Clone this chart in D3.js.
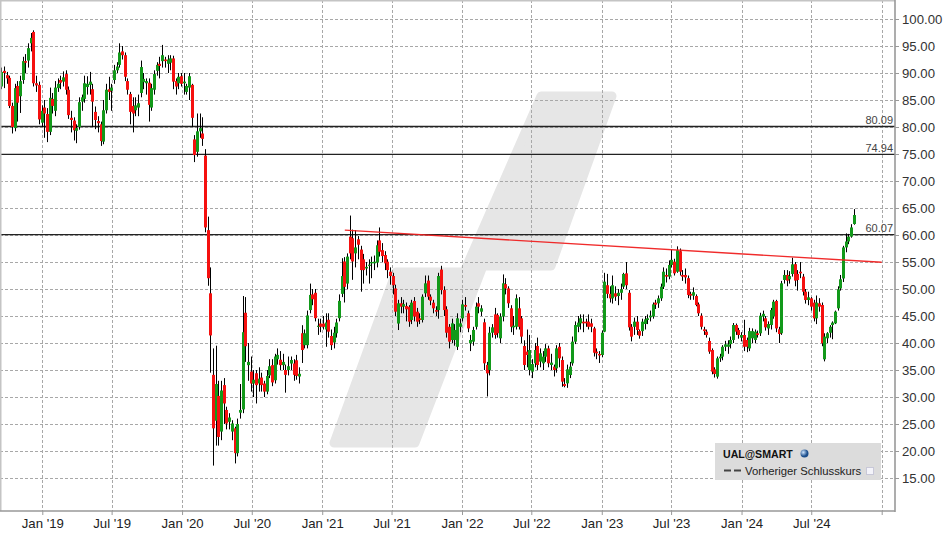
<!DOCTYPE html>
<html>
<head>
<meta charset="utf-8">
<script src="https://cdn.jsdelivr.net/npm/d3@7"></script>
<style>
  html, body { margin: 0; padding: 0; background: #fff; }
  svg { display: block; font-family: "Liberation Sans", Arial, sans-serif; }
</style>
</head>
<body>
<svg id="chart" width="948" height="539"></svg>
<script>
// ---------- DATA (weekly candles, UAL) ----------
const firstWeek = "2018-09-16";
const openP = [87.5,90.4,89.6,89.1,83.9,79.8,87.6,85.7,88.7,92.2,92.3,95.5,97.6,88.1,87.8,80.8,83.6,82.4,79.1,85.2,83.0,87.2,88.7,88.4,89.8,86.9,81.7,81.2,79.3,80.0,84.7,85.2,87.4,87.8,87.0,82.8,81.1,80.5,77.3,83.1,87.0,86.7,88.7,90.5,91.5,94.0,93.3,88.5,86.1,83.9,83.1,83.6,86.3,88.3,88.1,88.2,83.6,86.9,90.4,91.7,92.2,92.5,91.7,91.9,92.7,88.5,88.1,89.4,88.1,86.5,87.3,87.8,77.7,75.4,79.2,78.8,74.7,60.9,49.2,34.1,25.6,30.2,23.6,32.2,27.6,25.4,23.6,24.2,19.6,27.1,27.7,45.6,35.9,34.7,32.5,34.4,32.5,33.6,32.5,31.0,34.0,35.9,33.1,37.0,36.9,35.9,35.0,35.0,36.2,36.2,36.8,33.8,41.8,39.6,39.6,46.1,49.0,49.3,43.0,43.6,43.6,42.5,44.3,41.3,40.1,41.8,44.6,49.1,55.1,51.0,59.7,59.4,56.6,59.2,57.3,55.5,53.8,54.3,54.75,54.75,54.9,59.0,57.2,56.3,55.06,53.2,52.4,50.1,43.6,47.35,46.73,46.85,46.7,44.26,47.78,45.8,44.57,44.26,49.2,51.55,48.58,47.47,46.1,46.1,53.6,49.8,46.24,43.0,40.56,40.56,39.3,43.0,44.57,47.04,45.5,39.94,40.25,43.0,47.35,45.8,43.83,35.93,35.0,41.9,45.3,45.19,40.87,44.9,50.9,50.1,46.42,42.9,43.0,46.42,44.57,39.45,38.4,35.0,34.7,36.24,39.45,36.55,36.24,37.47,39.0,35.93,35.62,35.3,39.3,36.85,32.4,32.53,34.07,36.24,40.25,43.0,43.64,43.95,43.95,43.95,43.64,42.7,38.4,37.97,37.78,42.1,50.7,49.1,48.27,49.2,48.7,49.3,50.43,52.9,49.3,43.0,43.0,43.95,42.2,42.2,43.52,44.26,44.75,44.9,47.47,47.35,48.27,50.43,52.6,52.29,54.45,55.06,53.2,57.0,52.6,52.6,52.0,49.1,48.77,48.7,47.16,45.06,42.53,42.1,40.37,38.7,35.12,33.77,37.16,37.47,39.3,39.3,39.8,40.56,43.33,42.41,41.0,41.48,40.56,39.0,40.87,40.56,41.8,41.8,44.9,44.57,42.7,43.33,44.9,47.78,42.53,41.8,51.67,52.6,51.8,52.78,54.6,52.78,53.2,52.29,49.5,47.96,48.27,47.47,44.57,47.35,47.04,36.98,40.87,41.9,43.33,43.64,46.42,50.1,51.95,57.7,58.8,59.7,62.04];
const highP = [91.0,91.2,90.2,89.5,84.5,88.0,88.5,89.5,93.0,93.5,95.5,97.4,97.9,89.5,88.4,84.0,85.0,83.5,87.3,86.3,88.5,89.0,89.5,90.3,90.5,87.5,83.0,81.8,80.5,85.5,86.0,89.5,89.4,90.2,88.0,83.8,82.0,81.0,85.0,88.0,89.3,88.0,91.5,92.0,95.5,95.0,93.8,89.0,86.5,85.5,85.5,86.0,92.3,90.0,89.0,89.0,88.0,90.5,92.0,93.0,95.2,93.0,93.3,93.3,93.2,89.0,90.0,90.0,90.0,88.0,90.0,88.0,78.5,82.5,82.5,81.8,75.9,63.4,54.0,39.0,39.5,33.0,33.0,33.5,28.2,27.0,25.7,24.5,26.0,32.4,48.7,48.5,40.0,37.5,35.0,35.0,35.5,34.5,33.0,35.0,37.0,37.0,38.0,39.0,38.5,38.0,36.0,37.5,37.5,37.0,37.8,35.5,43.3,42.5,46.0,51.0,50.0,50.0,44.5,44.5,45.0,45.5,45.5,42.5,43.0,44.5,49.0,55.7,55.9,56.6,63.6,61.0,60.9,59.8,58.0,56.5,55.0,55.5,56.0,56.2,59.0,61.4,58.5,57.0,55.5,54.0,53.0,50.8,48.0,48.5,48.0,47.5,47.0,48.0,48.5,46.5,45.5,49.0,52.5,52.5,49.0,48.0,46.8,53.0,54.3,50.5,46.8,43.5,44.5,43.5,45.5,44.5,48.0,48.5,46.0,41.5,43.0,47.5,48.5,47.0,44.5,36.5,43.0,43.5,46.5,45.5,45.5,52.7,52.0,50.5,47.0,45.0,49.0,48.5,45.0,40.5,42.5,41.5,37.0,40.0,41.0,39.0,38.5,39.8,39.5,38.0,36.0,39.6,40.0,37.5,33.5,36.0,36.5,41.2,44.0,45.0,45.3,45.3,44.5,45.3,44.5,43.0,39.0,38.5,42.3,53.0,52.8,50.5,52.5,50.5,50.0,51.0,53.0,55.0,49.8,43.5,44.7,45.0,42.5,44.5,45.0,45.3,46.0,47.5,48.0,48.8,51.0,54.0,53.8,55.3,57.3,55.6,57.9,57.5,53.5,53.8,52.5,49.5,50.3,49.0,47.5,45.5,43.0,42.5,41.0,39.0,35.5,37.5,38.0,39.6,40.4,40.5,41.2,43.7,43.6,42.8,42.0,44.3,41.0,42.8,42.7,42.5,42.3,45.6,46.0,45.0,44.0,46.5,48.0,48.0,43.0,51.5,53.5,53.5,53.3,55.8,55.0,53.5,55.0,52.8,50.0,49.5,48.5,48.0,48.8,48.3,47.5,41.8,42.0,43.3,44.0,46.0,50.5,52.6,58.0,60.3,60.2,62.0,64.8];
const lowP = [87.0,87.2,88.0,83.5,78.8,79.2,81.0,82.6,88.0,90.0,91.0,94.0,87.5,86.5,80.5,80.0,78.0,77.2,78.5,82.5,82.0,86.5,87.0,87.5,86.0,81.5,79.0,77.5,77.0,79.5,83.0,84.5,86.0,86.0,80.0,79.6,79.0,76.5,76.8,82.5,85.0,83.0,88.0,90.0,91.0,92.5,88.5,86.0,80.5,79.0,82.0,82.0,85.5,87.0,86.0,81.0,83.0,86.0,89.5,89.0,91.0,91.0,90.0,90.5,87.0,86.0,87.0,87.5,86.0,86.0,85.0,80.0,73.5,74.5,78.0,76.5,60.5,50.6,34.5,17.3,21.0,21.0,22.0,25.0,24.0,24.0,22.0,17.7,19.0,26.0,27.0,36.5,33.0,31.0,30.0,28.8,31.0,31.0,30.0,30.5,33.5,32.0,32.5,36.0,35.0,35.0,30.8,34.0,35.0,33.0,33.2,32.5,36.3,39.0,39.0,45.5,47.0,44.0,41.5,42.0,42.5,39.3,41.0,38.7,39.0,41.0,44.0,48.5,47.5,50.0,55.5,51.7,54.0,55.5,49.5,51.0,52.5,51.0,52.0,53.5,54.0,56.0,55.0,53.5,52.0,50.8,49.0,45.0,42.4,45.5,45.5,44.0,43.0,43.5,44.0,43.0,43.5,43.8,48.5,48.0,47.0,45.5,45.0,44.5,49.0,45.0,41.0,39.0,40.0,39.5,38.7,42.0,44.0,46.0,42.0,38.5,39.5,42.5,45.5,45.0,35.0,30.1,34.0,41.0,40.8,41.0,40.0,44.0,49.0,46.5,42.0,41.5,42.5,42.5,40.0,35.0,35.5,34.0,33.5,35.5,35.0,35.5,35.0,36.5,35.5,35.0,33.8,34.5,35.5,31.9,31.8,31.7,33.5,35.8,39.8,42.0,42.5,42.0,43.0,42.5,42.0,37.5,37.0,36.3,37.4,42.0,48.3,47.5,47.3,47.8,47.0,48.0,50.0,50.0,42.3,40.3,41.5,41.5,40.8,41.3,42.5,43.5,44.0,44.5,46.3,46.5,47.8,50.0,51.2,51.8,54.0,52.5,53.0,52.5,51.5,51.0,48.3,48.0,48.0,46.8,45.0,42.5,41.5,41.0,38.0,34.2,33.6,33.4,36.5,36.8,38.5,38.0,39.0,40.0,41.5,40.8,40.3,38.5,38.3,38.5,40.0,40.0,41.0,41.3,44.0,42.3,41.5,42.5,44.5,42.0,40.0,41.5,51.0,50.5,51.0,52.3,50.5,49.7,52.0,48.8,47.3,47.0,46.0,44.0,43.5,45.8,39.4,36.6,40.0,41.0,40.7,43.5,46.0,49.7,51.3,56.8,58.3,59.5,61.9];
const closeP = [90.2,90.0,89.0,83.9,80.0,87.2,84.5,88.5,92.2,91.9,94.6,96.5,88.1,87.7,81.4,83.0,82.5,79.1,85.4,83.9,87.3,88.0,88.2,89.2,86.9,82.2,81.3,79.4,79.8,84.6,85.5,88.1,88.0,88.4,84.7,81.3,80.7,77.4,83.1,86.9,86.5,87.3,90.5,91.2,93.8,93.3,89.3,86.9,82.8,82.5,84.0,84.4,91.1,88.9,88.5,84.1,87.2,89.8,91.5,91.3,93.3,92.2,92.5,92.7,88.4,87.5,89.3,88.0,88.4,87.6,89.4,81.7,74.8,79.2,79.8,77.8,61.4,52.0,41.4,24.2,32.4,22.6,31.2,28.8,25.1,26.2,25.1,19.6,25.0,27.6,42.0,39.4,36.5,32.5,33.2,32.2,33.4,32.2,31.0,33.9,35.7,32.7,37.5,37.8,35.9,36.5,34.1,35.7,36.85,34.1,33.9,34.3,38.7,41.8,45.1,48.9,48.1,44.6,43.2,43.0,43.0,43.8,42.1,39.6,41.9,43.8,47.8,52.4,50.4,56.0,56.6,55.1,57.7,58.2,53.5,53.5,54.1,54.5,55.0,55.06,58.1,56.9,56.1,54.75,53.5,52.4,50.7,45.8,47.35,46.73,47.2,46.24,43.95,47.47,44.9,43.95,44.26,48.58,51.05,48.58,47.84,46.42,45.8,52.4,49.8,46.1,41.9,40.25,43.64,42.41,44.57,43.64,47.16,46.73,42.7,40.56,42.41,46.73,46.73,46.42,36.24,34.38,41.9,42.9,41.48,41.8,44.9,51.05,50.1,47.35,43.0,43.2,48.27,43.0,41.18,35.93,37.78,38.7,36.1,38.7,35.93,38.09,37.47,39.0,36.24,36.36,35.0,39.0,37.16,32.84,32.04,35.12,35.62,40.25,43.33,43.77,44.57,43.64,43.64,43.0,43.0,38.2,38.09,37.7,41.9,51.36,49.1,48.27,50.7,48.58,49.3,49.94,52.78,50.7,42.9,41.18,43.95,42.41,41.36,43.95,44.38,44.57,45.06,47.16,47.1,48.27,50.43,53.2,52.29,54.45,55.4,52.9,57.2,53.2,52.29,52.16,48.9,48.77,49.4,47.04,45.5,43.0,42.2,41.48,38.4,34.7,34.26,37.16,37.47,39.3,39.75,39.75,40.56,43.33,42.1,41.48,41.48,39.3,39.3,42.2,42.2,42.1,41.48,45.06,45.4,42.9,43.52,46.1,47.65,42.7,41.67,51.05,52.6,51.55,52.4,54.57,51.55,51.67,52.9,49.5,47.96,48.46,46.73,44.57,47.47,46.73,39.94,41.18,41.8,43.0,43.77,45.8,49.94,51.8,57.7,58.8,59.7,61.4,63.7];

const yTickValues = [15,20,25,30,35,40,45,50,55,60,65,70,75,80,85,90,95,100];
const xTickDates  = ["2019-01-01","2019-07-01","2020-01-01","2020-07-01","2021-01-01","2021-07-01","2022-01-01","2022-07-01","2023-01-01","2023-07-01","2024-01-01","2024-07-01","2025-01-01"];
const xTickLabels = ["Jan '19","Jul '19","Jan '20","Jul '20","Jan '21","Jul '21","Jan '22","Jul '22","Jan '23","Jul '23","Jan '24","Jul '24",""];
const levelValues = [80.09, 74.94, 60.07];
const trendDates  = ["2021-03-01","2025-01-01"];
const trendValues = [60.9, 54.95];
const legendTitle = "UAL@SMART";
const legendItem  = "Vorheriger Schlusskurs";

// ---------- LAYOUT ----------
const W = 948, H = 539;
const plotR = 895, plotB = 511;
const parse = d3.utcParse("%Y-%m-%d");
const start = parse(firstWeek);
const candles = openP.map((o, i) => ({
  date: d3.utcDay.offset(start, 7 * i),
  o, h: highP[i], l: lowP[i], c: closeP[i]
}));

const x = d3.scaleUtc()
  .domain([parse("2019-01-01"), parse("2025-01-01")])
  .range([42.3, 881.7]);
const y = d3.scaleLinear().domain([15, 100]).range([478, 19]);

const svg = d3.select("#chart");
svg.append("rect").attr("width", W).attr("height", H).attr("fill", "#fff");

svg.append("clipPath").attr("id", "clip")
  .append("rect").attr("x", 0).attr("y", 0).attr("width", plotR).attr("height", plotB);

// watermark
svg.append("path")
  .attr("d", "M541,96 L612,96 L551,266 L483,266 L415,443 L334,443 L396,272 L464,272 Z")
  .attr("fill", "#e6e6e6")
  .attr("stroke", "#e6e6e6")
  .attr("stroke-width", 9)
  .attr("stroke-linejoin", "round");

// gridlines
const grid = svg.append("g").attr("clip-path", "url(#clip)");
grid.selectAll("line.hg").data(yTickValues).join("line")
  .attr("x1", 0).attr("x2", plotR)
  .attr("y1", d => Math.round(y(d)) + 0.5).attr("y2", d => Math.round(y(d)) + 0.5)
  .attr("stroke", "#a8a8a8").attr("stroke-width", 1).attr("stroke-dasharray", "3,2");
grid.selectAll("line.vg").data(xTickDates).join("line")
  .attr("x1", d => Math.round(x(parse(d))) + 0.5).attr("x2", d => Math.round(x(parse(d))) + 0.5)
  .attr("y1", 0).attr("y2", plotB)
  .attr("stroke", "#a8a8a8").attr("stroke-width", 1).attr("stroke-dasharray", "3,2");

// level lines
const lv = svg.append("g");
lv.selectAll("line").data(levelValues).join("line")
  .attr("x1", 0).attr("x2", plotR)
  .attr("y1", d => y(d)).attr("y2", d => y(d))
  .attr("stroke", "#222").attr("stroke-width", 1.3);
lv.selectAll("text").data(levelValues).join("text")
  .attr("x", plotR - 2).attr("y", d => y(d) - 2.5)
  .attr("text-anchor", "end").attr("font-size", 11).attr("fill", "#444")
  .text(d => d.toFixed(2));

// candles
const cg = svg.append("g").attr("clip-path", "url(#clip)");
cg.selectAll("line.wick").data(candles).join("line")
  .attr("x1", d => Math.round(x(d.date)) + 0.5).attr("x2", d => Math.round(x(d.date)) + 0.5)
  .attr("y1", d => y(d.h)).attr("y2", d => y(d.l))
  .attr("stroke", "#000").attr("stroke-width", 1);
cg.selectAll("rect.body").data(candles).join("rect")
  .attr("x", d => Math.round(x(d.date)) - 1)
  .attr("width", 3)
  .attr("y", d => y(Math.max(d.o, d.c)))
  .attr("height", d => Math.max(1.2, Math.abs(y(d.o) - y(d.c))))
  .attr("fill", d => d.c >= d.o ? "#12991a" : "#f5100f");

// trend line
svg.append("line")
  .attr("x1", x(parse(trendDates[0]))).attr("y1", y(trendValues[0]))
  .attr("x2", x(parse(trendDates[1]))).attr("y2", y(trendValues[1]))
  .attr("stroke", "#f02020").attr("stroke-width", 1.4).attr("opacity", 0.95);

// frame
svg.append("line").attr("x1", 0.5).attr("x2", 0.5).attr("y1", 0).attr("y2", plotB).attr("stroke", "#c4c4c4").attr("stroke-width", 2);
svg.append("line").attr("x1", 0).attr("x2", plotR).attr("y1", 0.5).attr("y2", 0.5).attr("stroke", "#c4c4c4").attr("stroke-width", 2);
svg.append("line").attr("x1", plotR).attr("x2", plotR).attr("y1", 0).attr("y2", plotB + 1).attr("stroke", "#999").attr("stroke-width", 1.6);
svg.append("line").attr("x1", 0).attr("x2", plotR).attr("y1", plotB).attr("y2", plotB).attr("stroke", "#999").attr("stroke-width", 1.6);

// right axis
const yAxis = d3.axisRight(y).tickValues(yTickValues).tickFormat(d3.format(".2f")).tickSize(4).tickPadding(3);
const ya = svg.append("g").attr("transform", `translate(${plotR},0)`).call(yAxis);
ya.select(".domain").remove();
ya.selectAll("line").attr("stroke", "#999");
ya.selectAll("text").attr("font-size", 13.2).attr("fill", "#333")
  .attr("font-family", "'Liberation Sans', Arial, sans-serif").attr("dy", "0.36em");

// bottom axis
const labelOf = new Map(xTickDates.map((d, i) => [d, xTickLabels[i]]));
const xAxis = d3.axisBottom(x).tickValues(xTickDates.map(parse))
  .tickFormat(d => labelOf.get(d3.utcFormat("%Y-%m-%d")(d))).tickSize(4).tickPadding(4);
const xa = svg.append("g").attr("transform", `translate(0,${plotB})`).call(xAxis);
xa.select(".domain").remove();
xa.selectAll("line").attr("stroke", "#999");
xa.selectAll("text").attr("font-size", 13.2).attr("fill", "#222")
  .attr("font-family", "'Liberation Sans', Arial, sans-serif");

// legend
const lg = svg.append("g");
lg.append("rect").attr("x", 715).attr("y", 443).attr("width", 166).attr("height", 37).attr("fill", "#dcdcdc");
lg.append("text").attr("x", 723).attr("y", 457.5).attr("font-size", 10.6).attr("font-weight", "bold").attr("fill", "#111").text(legendTitle);
const gr = lg.append("defs").append("radialGradient").attr("id", "globe").attr("cx", "35%").attr("cy", "35%");
gr.append("stop").attr("offset", "0%").attr("stop-color", "#cfe6ff");
gr.append("stop").attr("offset", "100%").attr("stop-color", "#1d4f8c");
lg.append("circle").attr("cx", 804.5).attr("cy", 453.5).attr("r", 4).attr("fill", "url(#globe)");
lg.append("line").attr("x1", 724).attr("x2", 741).attr("y1", 470.5).attr("y2", 470.5)
  .attr("stroke", "#444").attr("stroke-width", 2).attr("stroke-dasharray", "7,3");
lg.append("text").attr("x", 745).attr("y", 474.5).attr("font-size", 11.3).attr("fill", "#222").text(legendItem);
lg.append("rect").attr("x", 866.5).attr("y", 467.5).attr("width", 7).attr("height", 7)
  .attr("fill", "#f4f4fa").attr("stroke", "#c8c8d8").attr("stroke-width", 1);
</script>
</body>
</html>
